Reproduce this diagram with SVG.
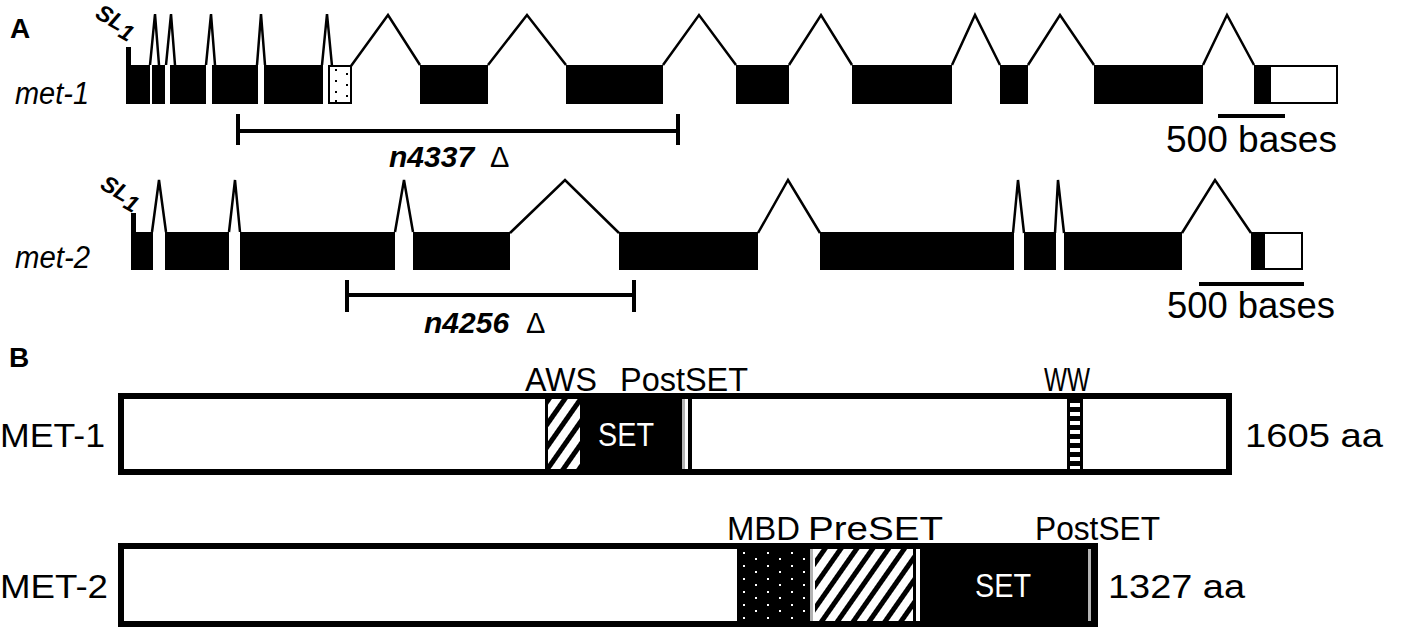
<svg xmlns="http://www.w3.org/2000/svg" width="1401" height="629" viewBox="0 0 1401 629">
<style>
.ex{fill:#000}
.utr{fill:#fff;stroke:#000;stroke-width:2}
.in{fill:none;stroke:#000;stroke-width:2.5;stroke-linejoin:miter}
.t{font-family:"Liberation Sans",Arial,Helvetica,sans-serif;fill:#000}
.hd{font-size:28px;font-weight:bold}
.gn{font-size:31px;font-style:italic}
.sl{font-size:23px;font-weight:bold;font-style:italic}
.del{font-size:30px;font-weight:bold;font-style:italic}
.dl{font-style:normal;font-weight:normal;font-size:29px}
.sc{font-size:37px}
.pl{font-size:34px}
.box{fill:#fff;stroke:#000;stroke-width:6}
.bar{fill:#000}
.gray{fill:#b4b4b4}
</style>
<defs>
<pattern id="hatch" patternUnits="userSpaceOnUse" width="13" height="13" patternTransform="rotate(35)">
<rect width="13" height="13" fill="#fff"/>
<rect width="5" height="13" fill="#000"/>
</pattern>
<pattern id="mbd" patternUnits="userSpaceOnUse" width="24" height="13" x="739" y="549">
<rect width="24" height="13" fill="#000"/>
<rect x="4" y="3" width="2" height="2" fill="#fff"/>
<rect x="16" y="9" width="2" height="2" fill="#fff"/>
</pattern>
<pattern id="ladder" patternUnits="userSpaceOnUse" width="20" height="9" x="0" y="400">
<rect width="20" height="9" fill="#000"/>
<rect y="3" width="20" height="4" fill="#fff"/>
</pattern>
</defs>

<text class="t hd" x="10" y="38">A</text>
<text class="t hd" x="9" y="367">B</text>

<g id="met-1-gene">
<text class="t gn" x="15" y="104" textLength="74" lengthAdjust="spacingAndGlyphs">met-1</text>
<text class="t sl" transform="translate(94,17) rotate(30)">SL<tspan dy="5">1</tspan></text>
<rect class="ex" x="126" y="47" width="5" height="20"/>
<rect class="ex" x="126" y="65" width="24" height="39"/>
<rect class="ex" x="152" y="65" width="13" height="39"/>
<rect class="ex" x="170" y="65" width="36" height="39"/>
<rect class="ex" x="212" y="65" width="46" height="39"/>
<rect class="ex" x="264" y="65" width="59" height="39"/>
<rect class="utr" x="329" y="66" width="22" height="37"/>
<g fill="#000">
<rect x="335" y="69" width="2" height="2"/><rect x="335" y="80" width="2" height="2"/><rect x="335" y="91" width="2" height="2"/><rect x="335" y="100" width="2" height="2"/>
<rect x="346" y="73" width="2" height="2"/><rect x="346" y="84" width="2" height="2"/><rect x="346" y="95" width="2" height="2"/>
</g>
<rect class="ex" x="420" y="65" width="68" height="39"/>
<rect class="ex" x="566" y="65" width="97" height="39"/>
<rect class="ex" x="736" y="65" width="53" height="39"/>
<rect class="ex" x="852" y="65" width="100" height="39"/>
<rect class="ex" x="1000" y="65" width="28" height="39"/>
<rect class="ex" x="1094" y="65" width="109" height="39"/>
<rect class="ex" x="1254" y="65" width="16" height="39"/>
<rect class="utr" x="1270" y="66" width="67" height="37"/>
<rect class="bar" x="1218" y="114" width="67" height="4"/>
<text class="t sc" x="1166" y="152" textLength="171" lengthAdjust="spacingAndGlyphs">500 bases</text>
<rect class="bar" x="236" y="114" width="4" height="31"/>
<rect class="bar" x="676" y="114" width="4" height="31"/>
<rect class="bar" x="238" y="129" width="440" height="4"/>
<text class="t del" x="389" y="167">n4337<tspan class="dl" x="490">Δ</tspan></text>
</g>

<g id="met-2-gene">
<text class="t gn" x="15" y="268" textLength="75" lengthAdjust="spacingAndGlyphs">met-2</text>
<text class="t sl" transform="translate(99,188) rotate(30)">SL<tspan dy="5">1</tspan></text>
<rect class="ex" x="131" y="213" width="5" height="21"/>
<rect class="ex" x="131" y="232" width="22" height="38"/>
<rect class="ex" x="165" y="232" width="64" height="38"/>
<rect class="ex" x="240" y="232" width="155" height="38"/>
<rect class="ex" x="413" y="232" width="97" height="38"/>
<rect class="ex" x="619" y="232" width="139" height="38"/>
<rect class="ex" x="820" y="232" width="194" height="38"/>
<rect class="ex" x="1024" y="232" width="32" height="38"/>
<rect class="ex" x="1064" y="232" width="118" height="38"/>
<rect class="ex" x="1251" y="232" width="13" height="38"/>
<rect class="utr" x="1264" y="233" width="38" height="36"/>
<rect class="bar" x="1199" y="282" width="105" height="4"/>
<text class="t sc" x="1167" y="318" textLength="168" lengthAdjust="spacingAndGlyphs">500 bases</text>
<rect class="bar" x="345" y="280" width="4" height="32"/>
<rect class="bar" x="632" y="280" width="4" height="32"/>
<rect class="bar" x="347" y="293" width="287" height="4"/>
<text class="t del" x="424" y="333">n4256<tspan class="dl" x="526">Δ</tspan></text>
</g>

<g id="connectors">
<path class="in" d="M150,65 L155,14 L159,65"/>
<path class="in" d="M166,65 L171,14 L175,65"/>
<path class="in" d="M206,65 L211,14 L215,65"/>
<path class="in" d="M257,65 L261,14 L265,65"/>
<path class="in" d="M322,65 L327,14 L332,66"/>
<path class="in" d="M351,66 L388,15 L420,65"/>
<path class="in" d="M488,65 L527,15 L566,65"/>
<path class="in" d="M663,65 L699,15 L736,65"/>
<path class="in" d="M789,65 L821,15 L852,65"/>
<path class="in" d="M952,65 L975,15 L1000,65"/>
<path class="in" d="M1028,65 L1060,15 L1094,65"/>
<path class="in" d="M1203,65 L1227,15 L1254,65"/>
<path class="in" d="M152,232 L159,180 L166,232"/>
<path class="in" d="M229,232 L235,180 L240,232"/>
<path class="in" d="M395,232 L404,180 L413,232"/>
<path class="in" d="M510,233 L565,180 L619,233"/>
<path class="in" d="M758,233 L788,180 L820,233"/>
<path class="in" d="M1013,233 L1018,180 L1024,233"/>
<path class="in" d="M1055,233 L1058,180 L1064,233"/>
<path class="in" d="M1182,233 L1215,180 L1251,233"/>
</g>

<g id="MET-1">
<text class="t pl" x="0" y="447" textLength="105" lengthAdjust="spacingAndGlyphs">MET-1</text>
<rect class="box" x="121" y="396" width="1108" height="76"/>
<rect x="545" y="399" width="36" height="70" fill="url(#hatch)"/>
<rect x="545" y="399" width="3" height="70" fill="#000"/>
<rect x="580" y="399" width="102" height="70" fill="#000"/>
<rect class="gray" x="682" y="399" width="3" height="70"/>
<rect x="688" y="399" width="4" height="70" fill="#000"/>
<text x="598" y="446" class="t pl" style="fill:#fff" textLength="56" lengthAdjust="spacingAndGlyphs">SET</text>
<rect x="1067" y="399" width="16" height="70" fill="#000"/>
<rect x="1070" y="399" width="10" height="70" fill="url(#ladder)"/>
<text class="t pl" x="525" y="391" textLength="72" lengthAdjust="spacingAndGlyphs">AWS</text>
<text class="t pl" x="620" y="391" textLength="128" lengthAdjust="spacingAndGlyphs">PostSET</text>
<text class="t pl" x="1044" y="391" textLength="46" lengthAdjust="spacingAndGlyphs">WW</text>
<text class="t pl" x="1245" y="447" textLength="138" lengthAdjust="spacingAndGlyphs">1605 aa</text>
</g>

<g id="MET-2">
<text class="t pl" x="0" y="598" textLength="108" lengthAdjust="spacingAndGlyphs">MET-2</text>
<rect class="box" x="121" y="546" width="974" height="78"/>
<rect x="737" y="549" width="73" height="72" fill="url(#mbd)"/>
<rect class="gray" x="810" y="549" width="3" height="72"/>
<rect x="815" y="549" width="100" height="72" fill="url(#hatch)"/>
<rect x="913" y="549" width="3" height="72" fill="#000"/>
<rect x="920" y="549" width="175" height="72" fill="#000"/>
<rect class="gray" x="1088" y="549" width="3" height="72"/>
<text x="975" y="597" class="t pl" style="fill:#fff" textLength="56" lengthAdjust="spacingAndGlyphs">SET</text>
<text class="t pl" x="727" y="540" textLength="73" lengthAdjust="spacingAndGlyphs">MBD</text>
<text class="t pl" x="808" y="540" textLength="135" lengthAdjust="spacingAndGlyphs">PreSET</text>
<text class="t pl" x="1035" y="540" textLength="125" lengthAdjust="spacingAndGlyphs">PostSET</text>
<text class="t pl" x="1108" y="598" textLength="137" lengthAdjust="spacingAndGlyphs">1327 aa</text>
</g>
</svg>
